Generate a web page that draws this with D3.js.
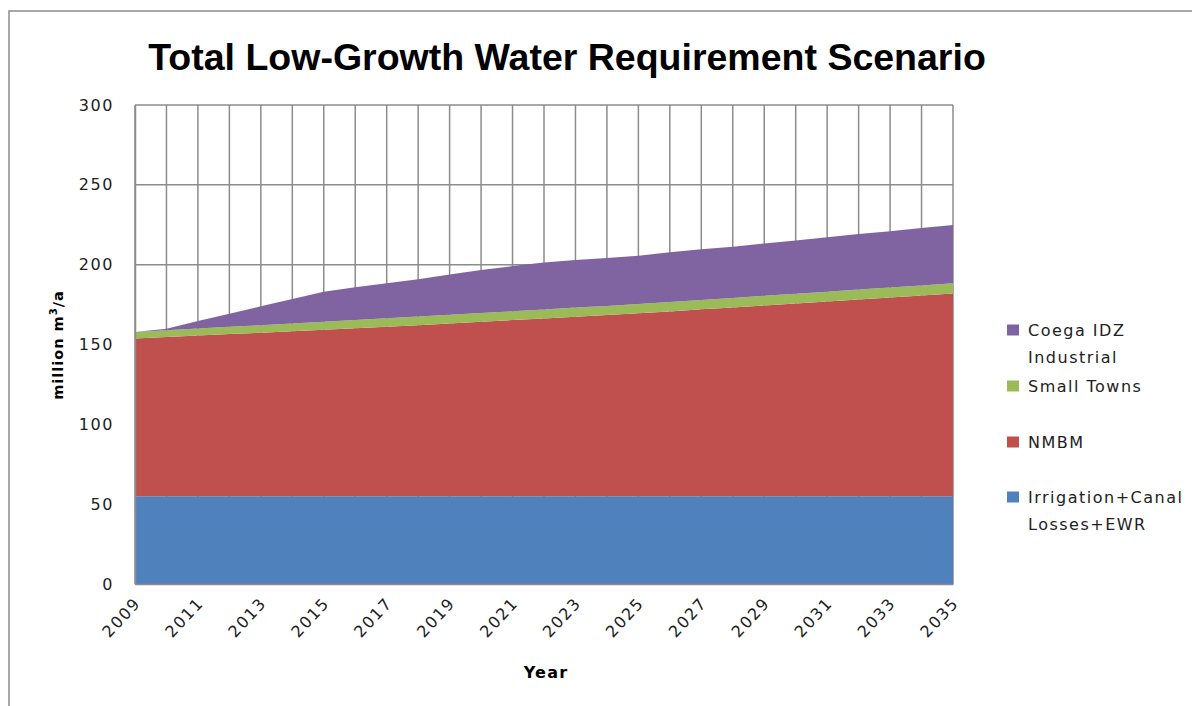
<!DOCTYPE html>
<html>
<head>
<meta charset="utf-8">
<script src="https://cdn.jsdelivr.net/npm/d3@7"></script>
<style>
  body { margin: 0; background: #fff; }
  svg { display: block; }
  .tick text { font-family: 'DejaVu Sans', sans-serif; font-size: 16px; fill: #222; letter-spacing: 1.6px; }
</style>
</head>
<body>
<svg width="1192" height="706"></svg>
<script>
(function() {
  'use strict';

  const years = d3.range(2009, 2036);
  const yearTicks = [2009, 2011, 2013, 2015, 2017, 2019, 2021, 2023, 2025,
    2027, 2029, 2031, 2033, 2035];
  const valueTicks = [0, 50, 100, 150, 200, 250, 300];

  // million m3/a
  const irrigation = [55, 55, 55, 55, 55, 55, 55, 55, 55, 55, 55, 55, 55, 55,
    55, 55, 55, 55, 55, 55, 55, 55, 55, 55, 55, 55, 55];
  const nmbm = [98.8, 99.7, 100.6, 101.5, 102.4, 103.3, 104.3, 105.2, 106.1,
    107.1, 108.2, 109.2, 110.3, 111.3, 112.4, 113.4, 114.5, 115.7, 117.0,
    118.2, 119.5, 120.7, 122.0, 123.2, 124.5, 125.7, 127.0];
  const smallTowns = [4.1, 4.3, 4.4, 4.6, 4.7, 4.9, 5.0, 5.2, 5.3, 5.4, 5.4,
    5.5, 5.5, 5.6, 5.7, 5.7, 5.8, 5.9, 5.9, 6.0, 6.0, 6.1, 6.1, 6.2, 6.2,
    6.3, 6.3];
  const coega = [0, 0.9, 4.7, 8.2, 11.8, 15.3, 18.7, 20.4, 21.9, 23.3, 25.3,
    26.9, 28.3, 29.5, 29.8, 30.0, 30.3, 31.1, 31.7, 32.0, 32.8, 33.4, 34.0,
    34.8, 35.3, 35.9, 36.5];

  const keys = ['irrigation', 'nmbm', 'small', 'coega'];
  const colors = {
    irrigation: '#4f81bd',
    nmbm: '#c0504d',
    small: '#9bbb59',
    coega: '#8064a2',
  };
  const legendItems = [
    {key: 'coega', lines: ['Coega IDZ', 'Industrial'], y: 330},
    {key: 'small', lines: ['Small Towns'], y: 386},
    {key: 'nmbm', lines: ['NMBM'], y: 442},
    {key: 'irrigation', lines: ['Irrigation+Canal', 'Losses+EWR'], y: 497},
  ];

  const table = years.map((yr, i) => ({
    year: yr,
    irrigation: irrigation[i],
    nmbm: nmbm[i],
    small: smallTowns[i],
    coega: coega[i],
  }));

  const svg = d3.select('svg');
  const margin = {top: 105, left: 135};
  const width = 818;
  const height = 479;

  // outer frame
  svg.append('path')
      .attr('d', 'M9,706V11H1192')
      .attr('fill', 'none')
      .attr('stroke', '#8c8c8c')
      .attr('stroke-width', 1.5);

  svg.append('text')
      .attr('x', 567)
      .attr('y', 70)
      .attr('text-anchor', 'middle')
      .attr('font-family', 'Liberation Sans, Arial, sans-serif')
      .attr('font-weight', 'bold')
      .attr('font-size', 37.5)
      .text('Total Low-Growth Water Requirement Scenario');

  const g = svg.append('g')
      .attr('transform', 'translate(' + margin.left + ',' + margin.top + ')');

  const x = d3.scaleLinear()
      .domain([2009, 2035])
      .range([0, width]);

  const y = d3.scaleLinear()
      .domain([0, 300])
      .range([height, 0]);

  // gridlines
  g.append('g')
      .selectAll('line.v')
      .data(years)
      .join('line')
      .attr('x1', (d) => x(d))
      .attr('x2', (d) => x(d))
      .attr('y1', 0)
      .attr('y2', height)
      .attr('stroke', '#8c8c8c')
      .attr('stroke-width', 1.5);

  g.append('g')
      .selectAll('line.h')
      .data(valueTicks)
      .join('line')
      .attr('x1', 0)
      .attr('x2', width)
      .attr('y1', (d) => y(d))
      .attr('y2', (d) => y(d))
      .attr('stroke', '#8c8c8c')
      .attr('stroke-width', 1.5);

  const series = d3.stack().keys(keys)(table);

  const area = d3.area()
      .x((d) => x(d.data.year))
      .y0((d) => y(d[0]))
      .y1((d) => y(d[1]));

  g.append('g')
      .selectAll('path')
      .data(series)
      .join('path')
      .attr('fill', (d) => colors[d.key])
      .attr('d', area);

  // axes
  const yAxis = g.append('g')
      .call(d3.axisLeft(y).tickValues(valueTicks).tickSize(0).tickPadding(21));
  yAxis.select('.domain').attr('stroke', '#8c8c8c').attr('stroke-width', 1.5);

  const xAxis = g.append('g')
      .attr('transform', 'translate(0,' + height + ')')
      .call(d3.axisBottom(x).tickValues(yearTicks).tickFormat(d3.format('d'))
          .tickSize(0));
  xAxis.select('.domain').attr('stroke', '#8c8c8c').attr('stroke-width', 1.5);
  xAxis.selectAll('.tick text')
      .attr('text-anchor', 'end')
      .attr('dy', null)
      .attr('y', 0)
      .attr('transform', 'translate(6,20) rotate(-47)');

  svg.append('text')
      .attr('transform', 'translate(63,345) rotate(-90)')
      .attr('text-anchor', 'middle')
      .attr('font-family', 'DejaVu Sans, sans-serif')
      .attr('font-weight', 'bold')
      .attr('font-size', 14.5)
      .attr('letter-spacing', 1)
      .call((t) => {
        t.append('tspan').text('million m');
        t.append('tspan').attr('dy', -6).attr('font-size', 10).text('3');
        t.append('tspan').attr('dy', 6).text('/a');
      });

  svg.append('text')
      .attr('x', 546)
      .attr('y', 678)
      .attr('text-anchor', 'middle')
      .attr('font-family', 'DejaVu Sans, sans-serif')
      .attr('font-weight', 'bold')
      .attr('font-size', 16)
      .attr('letter-spacing', 1.2)
      .text('Year');

  // legend
  const legend = svg.append('g');
  legendItems.forEach((item) => {
    legend.append('rect')
        .attr('x', 1007)
        .attr('y', item.y - 5.5)
        .attr('width', 12)
        .attr('height', 11)
        .attr('fill', colors[item.key]);
    item.lines.forEach((ln, j) => {
      legend.append('text')
          .attr('x', 1028)
          .attr('y', item.y + j * 27)
          .attr('dy', '0.36em')
          .attr('font-family', 'DejaVu Sans, sans-serif')
          .attr('font-size', 16)
          .attr('letter-spacing', 1.5)
          .attr('fill', '#222')
          .text(ln);
    });
  });
})();
</script>
</body>
</html>
